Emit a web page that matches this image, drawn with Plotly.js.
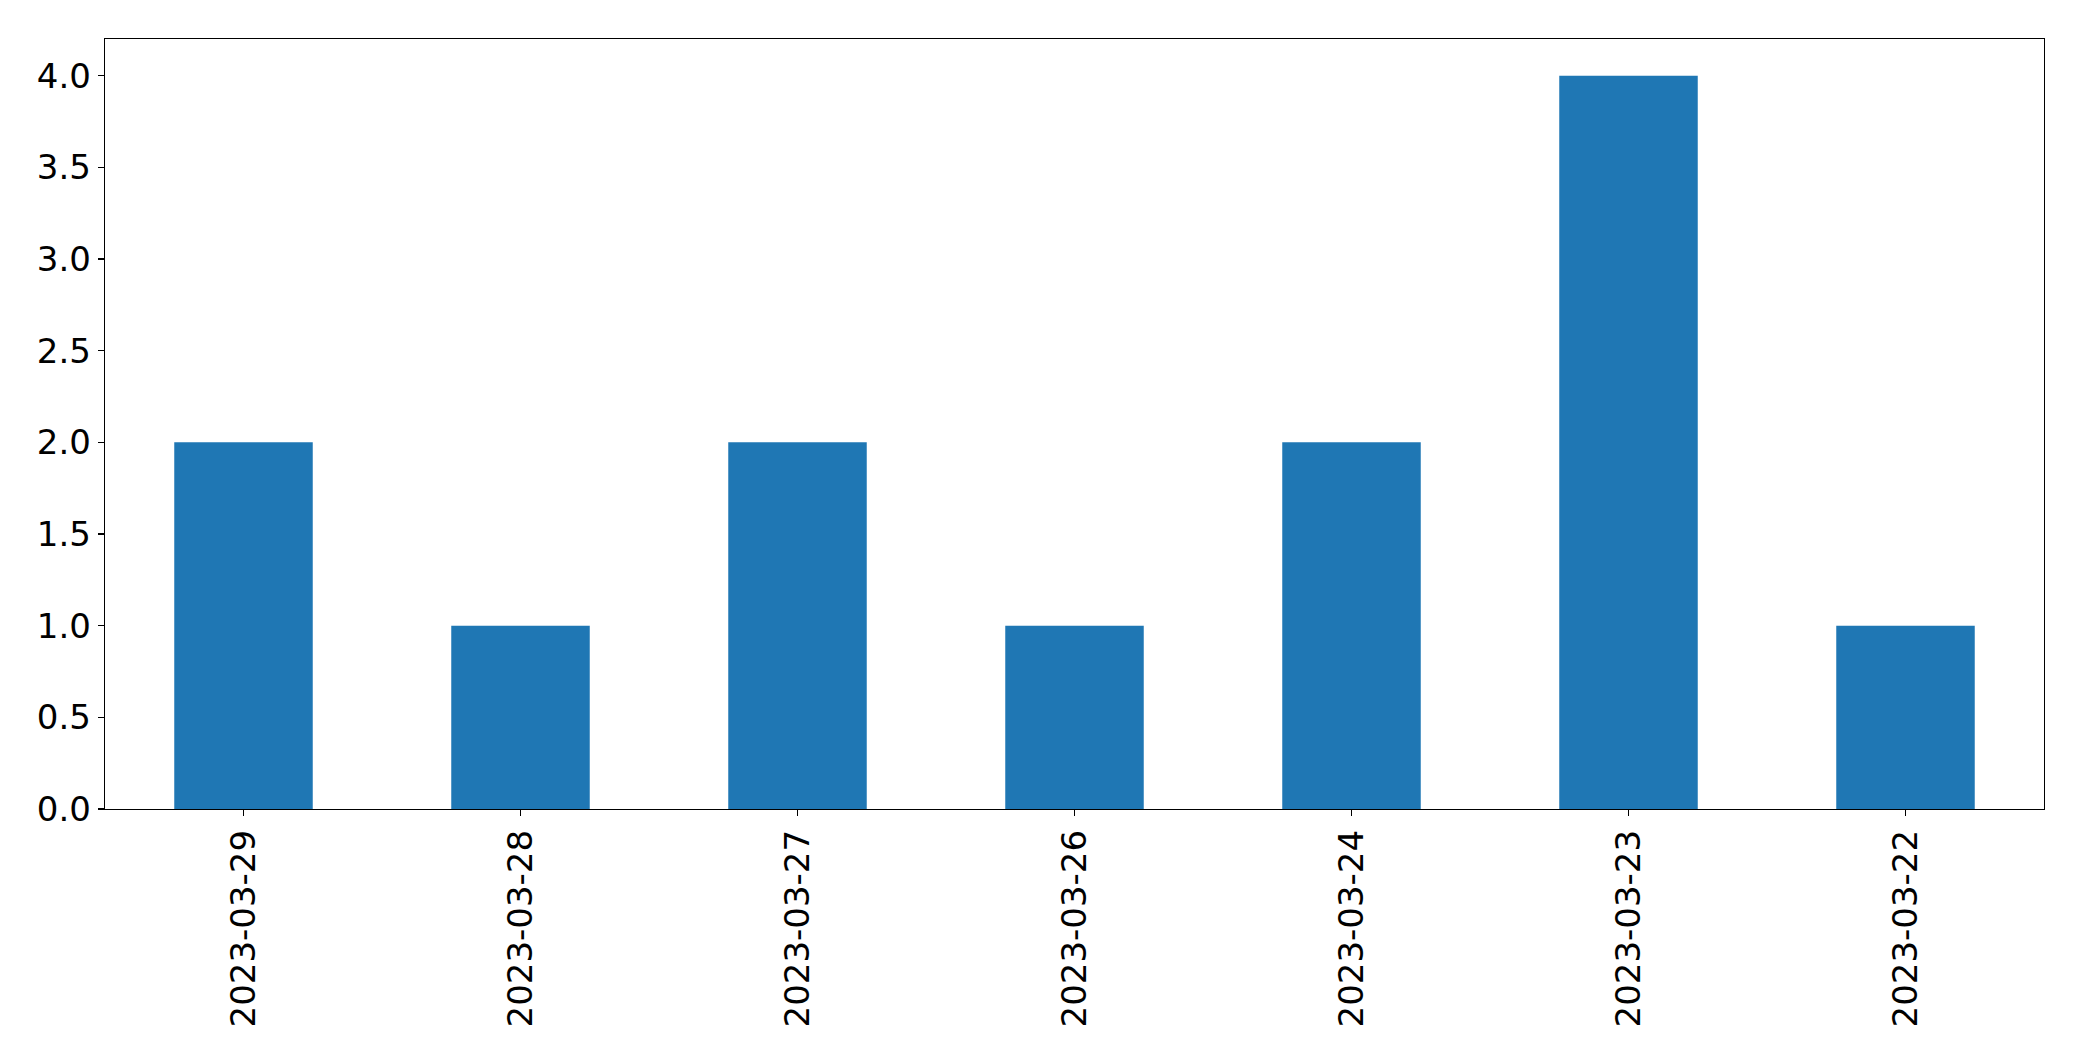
<!DOCTYPE html>
<html>
<head>
<meta charset="utf-8">
<script src="https://cdn.plot.ly/plotly-3.0.1.min.js"></script>
<style>html,body{margin:0;padding:0;background:#fff;}#chart{width:2082px;height:1061px;}</style>
</head>
<body>
<div id="chart"></div>
<script>
const dates = ["2023-03-29","2023-03-28","2023-03-27","2023-03-26","2023-03-24","2023-03-23","2023-03-22"];
const counts = [2, 1, 2, 1, 2, 4, 1];
const yTicks = [0, 0.5, 1, 1.5, 2, 2.5, 3, 3.5, 4];

const trace = {
  type: 'bar',
  x: dates,
  y: counts,
  width: 0.5,
  marker: {color: '#1f77b4', line: {width: 0}},
  hoverinfo: 'x+y'
};

const font = {family: 'DejaVu Sans, sans-serif', size: 34, color: '#000'};

const layout = {
  width: 2082,
  height: 1061,
  margin: {l: 105, r: 38, t: 39, b: 252, pad: 0},
  paper_bgcolor: '#fff',
  plot_bgcolor: '#fff',
  showlegend: false,
  font: font,
  xaxis: {
    type: 'category',
    range: [-0.5, 6.5],
    tickangle: -90,
    ticks: 'outside',
    ticklen: 6,
    tickwidth: 1.3,
    tickcolor: '#000',
    showline: true,
    linecolor: '#000',
    linewidth: 1.3,
    mirror: true,
    showgrid: false,
    zeroline: false,
    tickfont: font,
    ticklabelstandoff: 0
  },
  yaxis: {
    range: [0, 4.2],
    tickmode: 'array',
    tickvals: yTicks,
    ticktext: yTicks.map(v => v.toFixed(1)),
    ticks: 'outside',
    ticklen: 6,
    tickwidth: 1.3,
    tickcolor: '#000',
    showline: true,
    linecolor: '#000',
    linewidth: 1.3,
    mirror: true,
    showgrid: false,
    zeroline: false,
    tickfont: font,
    ticklabelstandoff: 0
  }
};

Plotly.newPlot('chart', [trace], layout, {displayModeBar: false, staticPlot: true});
</script>
</body>
</html>
